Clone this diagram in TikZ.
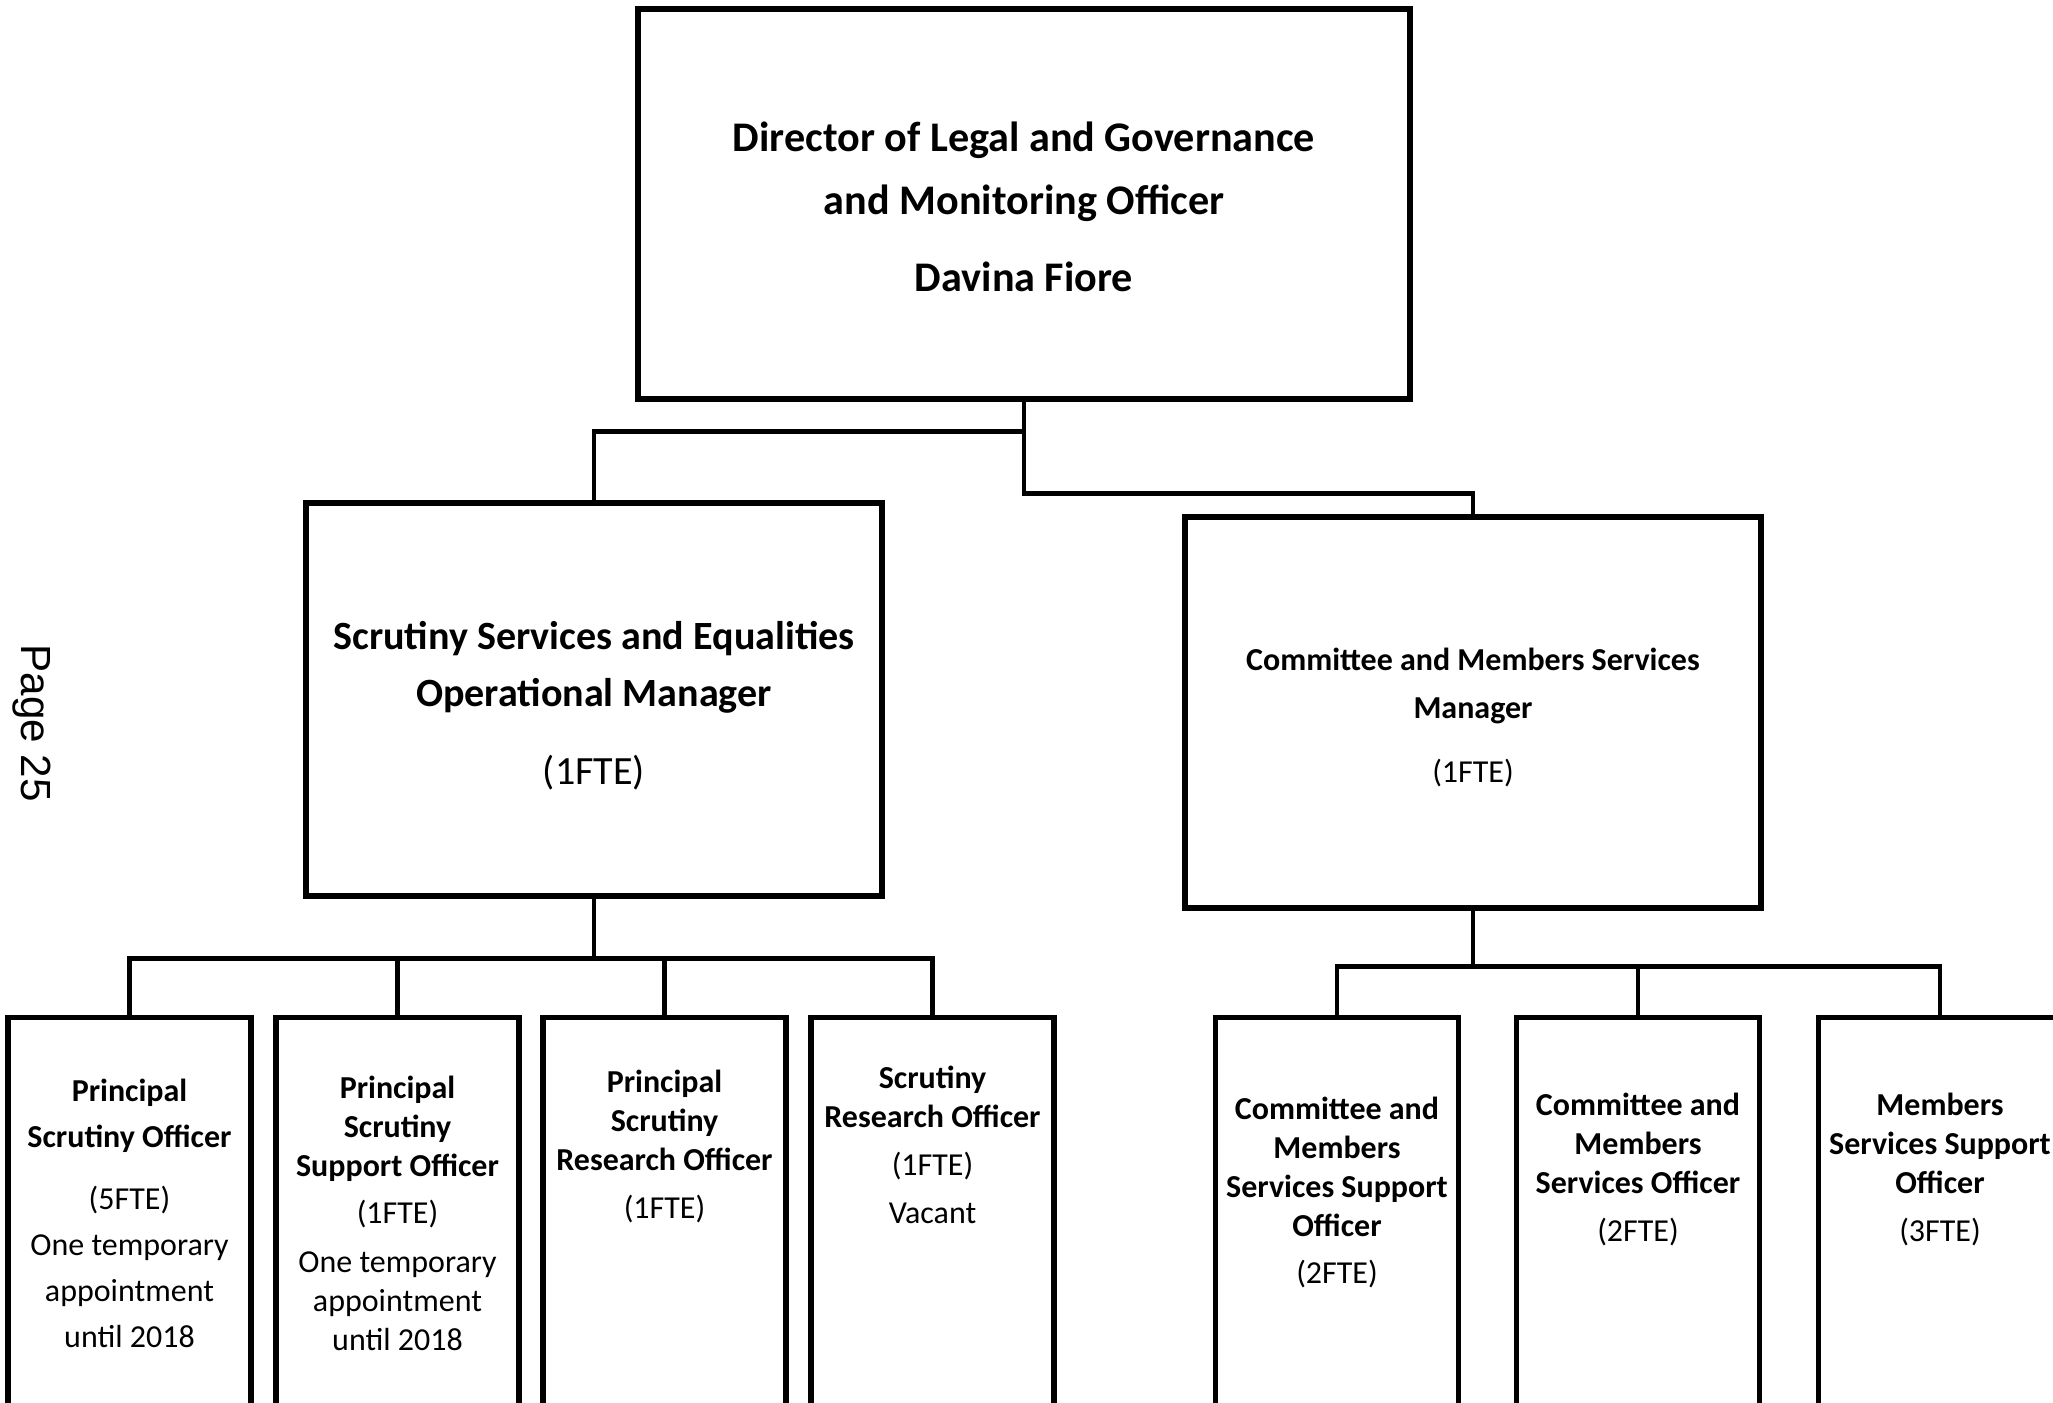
\documentclass[tikz,border=0pt]{standalone}
\usepackage{fontspec}
\setmainfont{Carlito}
\newfontfamily\pagefont{Liberation Sans}

\begin{document}
\begin{tikzpicture}[
    box/.style={draw,line width=1.5pt,inner sep=0pt},
    link/.style={line width=1.25pt},
    toptext/.style={font=\bfseries\fontsize{12}{17.9}\selectfont,align=center},
    midtext/.style={font=\bfseries\fontsize{11.4}{16.2}\selectfont,align=center},
    sidetext/.style={font=\bfseries\fontsize{9.1}{13.6}\selectfont,align=center},
    post/.style={box,anchor=north,minimum width=2.43cm,minimum height=5cm},
    posttext/.style={font=\bfseries\fontsize{9.1}{11.1}\selectfont,align=center}
]
\path[use as bounding box,clip] (0,0) rectangle (20.53,14.02);

\node[font=\pagefont\fontsize{12}{14}\selectfont,rotate=-90] (pg) at (0.32,6.79) {Page 25};

% director
\node[box,minimum width=7.72cm,minimum height=3.90cm] (dir) at (10.24,11.98) {};
\node[toptext] (dirt) at (10.24,11.955)
    {Director of Legal and Governance\\ and Monitoring Officer\\[4pt] Davina Fiore};

% managers
\node[box,minimum width=5.76cm,minimum height=3.93cm] (ssm) at (5.94,7.025) {};
\node[midtext] (ssmt) at (5.94,6.96)
    {Scrutiny Services and Equalities\\ Operational Manager\\[6pt] \textmd{(1FTE)}};
\node[box,minimum width=5.76cm,minimum height=3.91cm] (cmsm) at (14.73,6.895) {};
\node[sidetext] (cmsmt) at (14.73,6.845)
    {Committee and Members Services\\ Manager\\[4.5pt] \textmd{(1FTE)}};

\draw[link] (dir.south) -- ++(0,-0.92) -| (cmsm.north);
\draw[link] (dir.south) ++(0,-0.30) -| (ssm.north);

% scrutiny team
\node[post] (pso)  at (1.295,3.87) {};
\node[post] (psso) at (3.975,3.87) {};
\node[post] (psro) at (6.645,3.87) {};
\node[post] (sro)  at (9.325,3.87) {};

\node[posttext] (psot) at (1.295,1.885)
    {Principal\\[2pt] Scrutiny Officer\\[6.5pt] \textmd{(5FTE)}\\[2pt] \textmd{One temporary}\\[2pt] \textmd{appointment}\\[2pt] \textmd{until 2018}};
\node[posttext] (pssot) at (3.975,1.89)
    {Principal\\ Scrutiny\\ Support Officer\\[2.3pt] \textmd{(1FTE)}\\[2.8pt] \textmd{One temporary}\\ \textmd{appointment}\\ \textmd{until 2018}};
\node[posttext] (psrot) at (6.645,2.555)
    {Principal\\ Scrutiny\\ Research Officer\\[2.3pt] \textmd{(1FTE)}};
\node[posttext] (srot) at (9.325,2.57)
    {Scrutiny\\ Research Officer\\[2.6pt] \textmd{(1FTE)}\\[2.6pt] \textmd{Vacant}};

\draw[link] (ssm.south) -- ++(0,-0.60) coordinate (sbus);
\foreach \n in {pso,psso,psro,sro}
    \draw[link] (sbus) -| (\n.north);

% committee team
\node[post] (cmsso) at (13.37,3.87) {};
\node[post] (cmso)  at (16.38,3.87) {};
\node[post] (msso)  at (19.40,3.87) {};

\node[posttext] (cmssot) at (13.37,2.095)
    {Committee and\\ Members\\ Services Support\\ Officer\\[2.5pt] \textmd{(2FTE)}};
\node[posttext] (cmsot) at (16.38,2.325)
    {Committee and\\ Members\\ Services Officer\\[2.8pt] \textmd{(2FTE)}};
\node[posttext] (mssot) at (19.40,2.325)
    {Members\\ Services Support\\ Officer\\[2.8pt] \textmd{(3FTE)}};

\draw[link] (cmsm.south) -- ++(0,-0.56) coordinate (cbus);
\foreach \n in {cmsso,cmso,msso}
    \draw[link] (cbus) -| (\n.north);

\end{tikzpicture}
\end{document}
